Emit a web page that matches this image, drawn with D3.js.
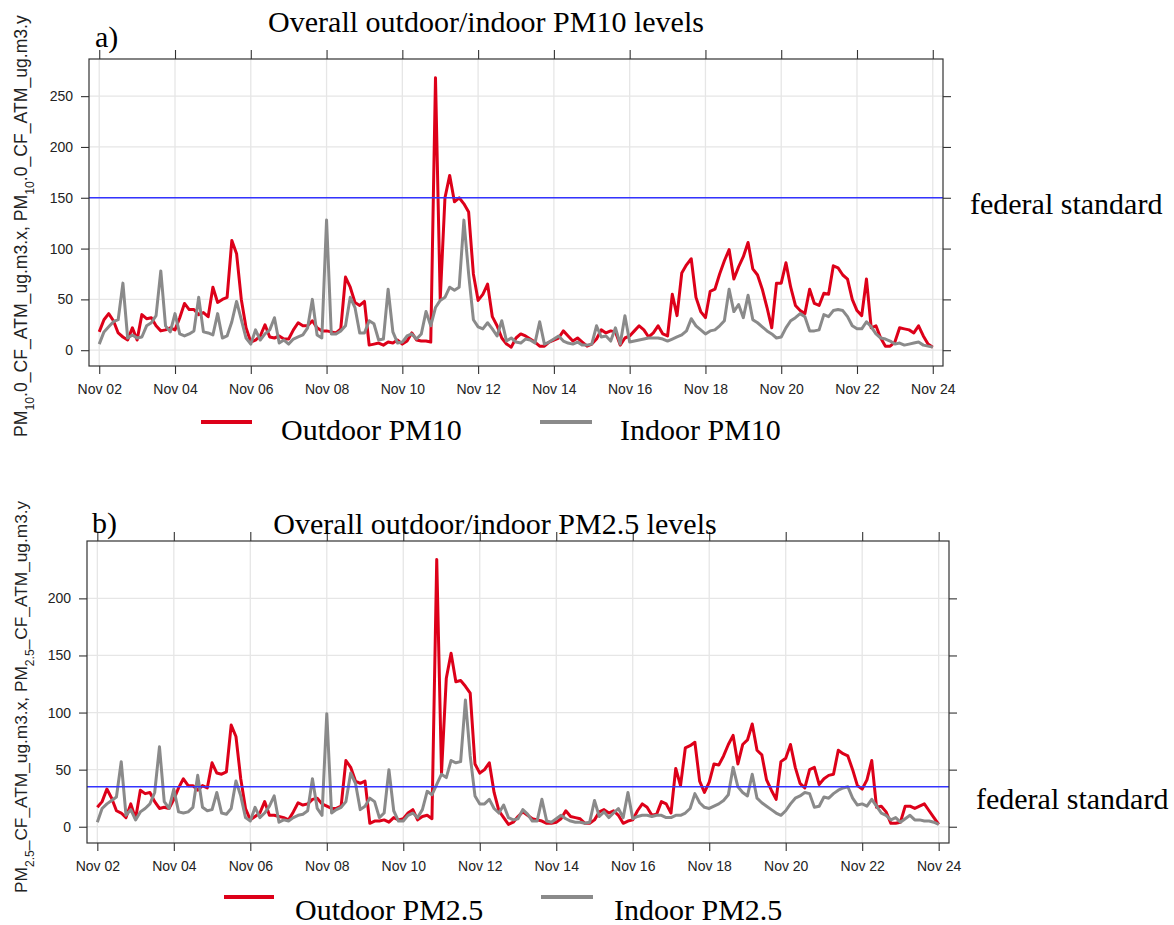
<!DOCTYPE html>
<html>
<head>
<meta charset="utf-8">
<script src="https://cdn.jsdelivr.net/npm/d3@7"></script>
<style>
  body { margin: 0; background: #fff; }
  svg { display: block; }
</style>
</head>
<body>
<svg id="chart" width="1174" height="925"></svg>
<script>
// 3-hourly readings from Nov 02 00:00 to Nov 24 00:00 (8 values per day, 177 in all)
const startDay = Date.UTC(2020, 10, 2);
const stepHours = 3;

const outdoorPM10 = [
  18, 30, 36, 29, 17, 13, 10, 22,
  10, 35, 31, 32, 24, 19, 20, 22,
  20, 32, 46, 40, 40, 35, 37, 33,
  62, 47, 50, 52, 108, 95, 50, 22,
  8, 10, 14, 25, 13, 12, 14, 11,
  11, 20, 27, 24, 24, 29, 22, 19,
  19, 18, 17, 21, 72, 62, 47, 44,
  48, 5, 6, 7, 5, 8, 7, 10,
  6, 9, 17, 10, 9, 9, 8, 268,
  50, 150, 172, 146, 150, 144, 136, 75,
  49, 55, 65, 33, 24, 12, 6, 3,
  12, 16, 14, 11, 8, 4, 4, 8,
  10, 12, 19, 14, 9, 12, 8, 4,
  6, 11, 20, 17, 19, 18, 5, 12,
  14, 19, 24, 20, 13, 17, 24, 16,
  14, 55, 34, 76, 84, 90, 52, 38,
  32, 58, 60, 75, 88, 99, 70, 82,
  92, 106, 80, 74, 60, 42, 22, 66,
  66, 86, 62, 44, 39, 36, 60, 46,
  44, 56, 55, 83, 81, 74, 70, 50,
  39, 34, 70, 22, 24, 12, 4, 4,
  8, 22, 21, 20, 17, 24, 14, 6,
  3
];

const indoorPM10 = [
  6, 18, 23, 28, 30, 66, 12, 15,
  12, 13, 24, 27, 34, 78, 24, 18,
  36, 16, 14, 16, 19, 52, 18, 17,
  15, 36, 12, 14, 28, 48, 30, 12,
  6, 20, 10, 16, 20, 32, 7, 10,
  6, 11, 13, 15, 22, 50, 15, 12,
  128, 16, 16, 19, 24, 52, 42, 17,
  17, 29, 26, 10, 11, 60, 18, 7,
  8, 14, 16, 11, 16, 38, 24, 42,
  49, 52, 62, 59, 62, 128, 75, 30,
  23, 21, 27, 21, 14, 29, 9, 12,
  8, 7, 11, 10, 7, 28, 6, 8,
  11, 14, 9, 7, 6, 8, 5, 5,
  6, 24, 13, 14, 9, 22, 6, 34,
  8, 9, 10, 11, 12, 12, 12, 11,
  9, 11, 13, 15, 19, 31, 24, 20,
  16, 19, 20, 24, 29, 60, 38, 45,
  32, 54, 30, 27, 23, 19, 16, 12,
  13, 22, 29, 32, 36, 33, 19, 19,
  20, 35, 33, 39, 40, 39, 33, 24,
  21, 21, 28, 23, 16, 12, 11, 9,
  6, 7, 5, 6, 7, 8, 5, 4,
  3
];

const outdoorPM25 = [
  17, 22, 33, 25, 14, 12, 8, 20,
  7, 32, 29, 30, 22, 16, 17, 16,
  24, 34, 42, 36, 36, 32, 36, 34,
  56, 47, 46, 48, 89, 79, 42, 16,
  6, 9, 12, 22, 10, 10, 9, 8,
  6, 13, 21, 19, 20, 24, 25, 20,
  18, 16, 16, 18, 58, 52, 40, 38,
  40, 3, 5, 5, 6, 4, 8, 6,
  7, 12, 15, 6, 9, 10, 7, 234,
  47, 130, 152, 127, 128, 123, 117, 55,
  47, 50, 56, 30, 14, 8, 2, 4,
  9, 13, 10, 7, 6, 5, 3, 3,
  4, 7, 14, 9, 8, 7, 3, 3,
  6, 13, 15, 12, 14, 10, 3, 5,
  6, 14, 20, 17, 10, 11, 22, 20,
  12, 51, 36, 69, 71, 74, 40, 30,
  39, 55, 54, 62, 72, 80, 55, 72,
  76, 90, 67, 63, 41, 32, 24, 57,
  60, 72, 52, 38, 34, 50, 52, 37,
  42, 45, 46, 67, 64, 62, 50, 36,
  33, 41, 58, 17, 18, 13, 3, 3,
  4, 18, 18, 16, 18, 20, 14, 8,
  2
];

const indoorPM25 = [
  4, 16, 20, 23, 26, 57, 10, 15,
  6, 13, 16, 20, 30, 70, 22, 16,
  33, 13, 12, 13, 17, 45, 17, 14,
  15, 30, 12, 11, 16, 40, 27, 8,
  5, 17, 8, 12, 18, 27, 4, 6,
  5, 8, 10, 11, 14, 42, 16, 10,
  99, 12, 15, 17, 22, 47, 38, 15,
  18, 25, 22, 8, 12, 50, 14, 5,
  5, 10, 12, 8, 15, 31, 28, 37,
  46, 43, 58, 56, 57, 111, 62, 27,
  20, 20, 24, 16, 12, 19, 8, 6,
  7, 15, 11, 5, 5, 24, 5, 4,
  7, 10, 7, 5, 4, 4, 3, 4,
  23, 9, 13, 8, 12, 16, 8, 30,
  7, 9, 10, 10, 9, 10, 10, 8,
  8, 10, 10, 12, 16, 29, 21, 17,
  16, 18, 20, 23, 28, 52, 35, 30,
  27, 46, 25, 21, 18, 15, 12, 10,
  14, 20, 25, 27, 30, 29, 17, 18,
  26, 25, 29, 32, 34, 35, 25, 19,
  20, 18, 24, 18, 12, 10, 6, 8,
  4, 7, 10, 6, 6, 5, 5, 4,
  2
];

// axis ticks
const tickDaysOfNov = [2, 4, 6, 8, 10, 12, 14, 16, 18, 20, 22, 24];
const ticksPM10 = [0, 50, 100, 150, 200, 250];
const ticksPM25 = [0, 50, 100, 150, 200];

// federal standards (ug/m3)
const standardPM10 = 150;
const standardPM25 = 35;

const RED = "#dd0019";
const GREY = "#8a8a8a";
const BLUE = "#3434ff";
const SANS = "'Liberation Sans', Arial, Helvetica, sans-serif";
const SERIF = "'Liberation Serif', 'Times New Roman', serif";

const svg = d3.select("#chart");
const timeAt = i => new Date(startDay + i * stepHours * 3600 * 1000);
const tickDates = tickDaysOfNov.map(d => new Date(Date.UTC(2020, 10, d)));

function drawPanel(p) {
  const g = svg.append("g");
  const dayMs = 86400000;
  const pad = 0.27 * dayMs;
  const t0 = tickDates[0].getTime(), t1 = tickDates[tickDates.length - 1].getTime();

  const x = d3.scaleUtc()
    .domain([new Date(t0 - pad), new Date(t1 + pad)])
    .range([p.left, p.right]);

  // lattice-style y range: data extent padded by 7%
  const all = p.outdoor.concat(p.indoor);
  const lo = d3.min(all), hi = d3.max(all);
  const ext = (hi - lo) * 0.07;
  const y = d3.scaleLinear().domain([lo - ext, hi + ext]).range([p.bottom, p.top]);

  // grid
  g.append("g").selectAll("line").data(tickDates).join("line")
    .attr("x1", d => x(d)).attr("x2", d => x(d))
    .attr("y1", p.top).attr("y2", p.bottom)
    .attr("stroke", "#e6e6e6").attr("stroke-width", 1.3);
  g.append("g").selectAll("line").data(p.yTicks).join("line")
    .attr("x1", p.left).attr("x2", p.right)
    .attr("y1", d => y(d)).attr("y2", d => y(d))
    .attr("stroke", "#e6e6e6").attr("stroke-width", 1.3);

  const line = d3.line().x((d, i) => x(timeAt(i))).y(d => y(d)).curve(d3.curveLinear);

  g.append("path").datum(p.outdoor).attr("d", line)
    .attr("fill", "none").attr("stroke", RED).attr("stroke-width", 3)
    .attr("stroke-linejoin", "round");
  g.append("path").datum(p.indoor).attr("d", line)
    .attr("fill", "none").attr("stroke", GREY).attr("stroke-width", 3)
    .attr("stroke-linejoin", "round");

  // federal standard
  g.append("line")
    .attr("x1", p.left).attr("x2", p.right)
    .attr("y1", y(p.standard)).attr("y2", y(p.standard))
    .attr("stroke", BLUE).attr("stroke-width", 1.6);

  // axes
  const fmt = d3.utcFormat("%b %d");
  const styleAxis = sel => {
    sel.select(".domain").remove();
    sel.selectAll(".tick line").attr("stroke", "#333").attr("stroke-width", 1.1);
    sel.selectAll(".tick text").attr("fill", "#222")
      .style("font-family", SANS).style("font-size", "14px");
  };
  g.append("g").attr("transform", `translate(0,${p.bottom})`)
    .call(d3.axisBottom(x).tickValues(tickDates).tickFormat(fmt).tickSize(8).tickPadding(10))
    .call(styleAxis);
  g.append("g").attr("transform", `translate(0,${p.top})`)
    .call(d3.axisTop(x).tickValues(tickDates).tickFormat("").tickSize(9))
    .call(styleAxis);
  g.append("g").attr("transform", `translate(${p.left},0)`)
    .call(d3.axisLeft(y).tickValues(p.yTicks).tickSize(8).tickPadding(8))
    .call(styleAxis);
  g.append("g").attr("transform", `translate(${p.right},0)`)
    .call(d3.axisRight(y).tickValues(p.yTicks).tickFormat("").tickSize(8))
    .call(styleAxis);

  // frame
  g.append("rect")
    .attr("x", p.left).attr("y", p.top)
    .attr("width", p.right - p.left).attr("height", p.bottom - p.top)
    .attr("fill", "none").attr("stroke", "#333").attr("stroke-width", 1.2);

  // titles and labels
  g.append("text").attr("x", p.titleX).attr("y", p.titleY)
    .attr("text-anchor", "middle").style("font-family", SERIF).style("font-size", "30px")
    .text(p.title);
  g.append("text").attr("x", p.tagX).attr("y", p.tagY)
    .style("font-family", SERIF).style("font-size", "30px").text(p.tag);
  g.append("text").attr("x", p.stdX).attr("y", p.stdY)
    .style("font-family", SERIF).style("font-size", "30px").text("federal standard");

  // y-axis title, reading bottom to top
  const yl = g.append("text")
    .attr("transform", `translate(${p.ylabX},${p.ylabY}) rotate(-90)`)
    .style("font-family", SANS).style("font-size", p.ylabSize + "px").attr("fill", "#222");
  [0, 1].forEach(k => {
    yl.append("tspan").text((k ? ", " : "") + "PM");
    yl.append("tspan").text(p.sub).attr("baseline-shift", "sub")
      .style("font-size", (p.ylabSize * 0.7) + "px");
    yl.append("tspan").text(p.rest + (k ? ".y" : ".x"));
  });

  // legend
  const lg = g.append("g");
  p.legend.forEach(it => {
    lg.append("line").attr("x1", it.x1).attr("x2", it.x2).attr("y1", it.ly).attr("y2", it.ly)
      .attr("stroke", it.color).attr("stroke-width", 4);
    lg.append("text").attr("x", it.tx).attr("y", it.ty)
      .style("font-family", SERIF).style("font-size", "30px").text(it.label);
  });
}

drawPanel({
  left: 89, right: 943, top: 59, bottom: 366,
  outdoor: outdoorPM10, indoor: indoorPM10, yTicks: ticksPM10, standard: standardPM10,
  title: "Overall outdoor/indoor PM10 levels", titleX: 486, titleY: 32,
  tag: "a)", tagX: 95, tagY: 47,
  stdX: 970, stdY: 214,
  ylabX: 27, ylabY: 437, ylabSize: 17.6,
  sub: "10", rest: ".0_CF_ATM_ug.m3",
  legend: [
    { x1: 201, x2: 252, ly: 422, color: RED, tx: 281, ty: 440, label: "Outdoor PM10" },
    { x1: 540, x2: 592, ly: 422, color: GREY, tx: 620, ty: 440, label: "Indoor PM10" }
  ]
});

drawPanel({
  left: 87, right: 949, top: 541, bottom: 843,
  outdoor: outdoorPM25, indoor: indoorPM25, yTicks: ticksPM25, standard: standardPM25,
  title: "Overall outdoor/indoor PM2.5 levels", titleX: 495, titleY: 534,
  tag: "b)", tagX: 92, tagY: 533,
  stdX: 976, stdY: 809,
  ylabX: 27, ylabY: 893, ylabSize: 17.3,
  sub: "2.5", rest: "_CF_ATM_ug.m3",
  legend: [
    { x1: 224, x2: 274, ly: 897, color: RED, tx: 295, ty: 920, label: "Outdoor PM2.5" },
    { x1: 541, x2: 593, ly: 897, color: GREY, tx: 614, ty: 920, label: "Indoor PM2.5" }
  ]
});
</script>
</body>
</html>
